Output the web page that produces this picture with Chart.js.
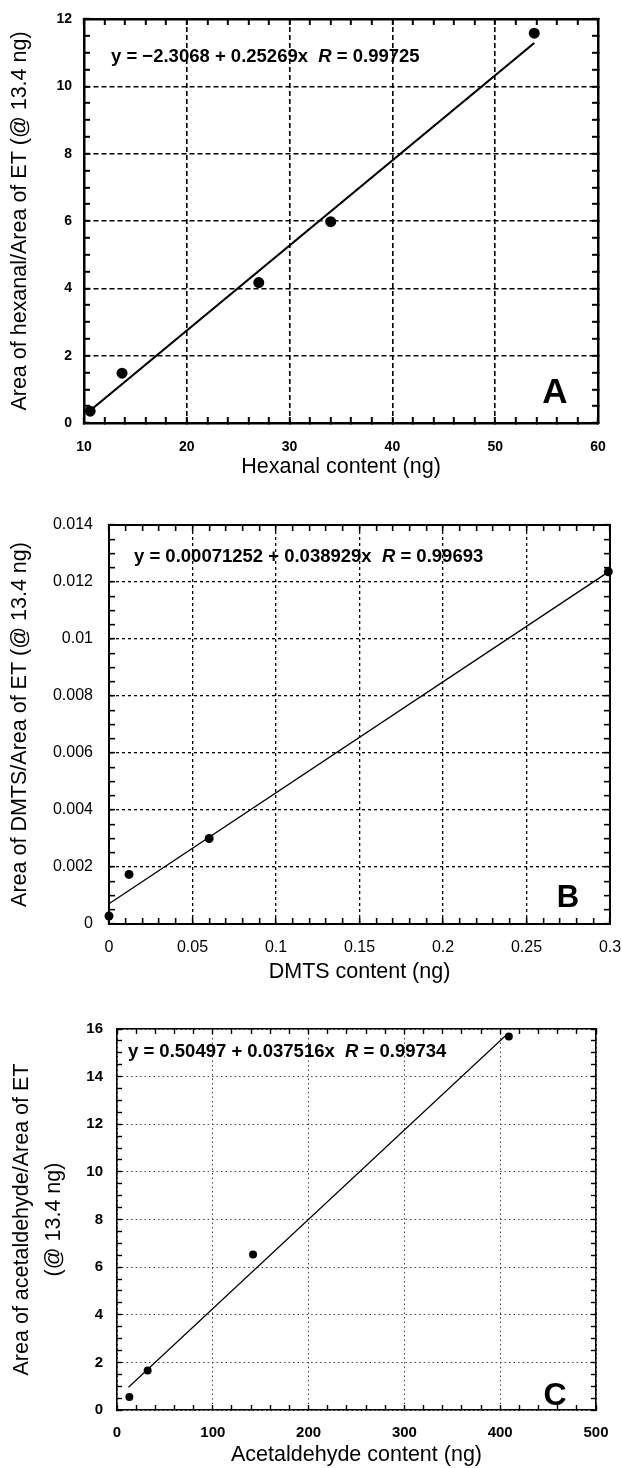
<!DOCTYPE html>
<html>
<head>
<meta charset="utf-8">
<script src="https://cdn.jsdelivr.net/npm/chart.js@4/dist/chart.umd.min.js"></script>
<style>
  body { margin: 0; background: #fff; }
  #wrap { position: relative; width: 622px; height: 1468px; overflow: hidden; }
  canvas { position: absolute; left: 0; }
</style>
</head>
<body>
<div id="wrap">
  <canvas id="chartA" width="622" height="485" style="top:0"></canvas>
  <canvas id="chartB" width="622" height="505" style="top:480px"></canvas>
  <canvas id="chartC" width="622" height="485" style="top:983px"></canvas>
</div>
<script>
// ======================
// DATA
// ======================

// A - hexanal
const hexanalX = [10.6, 13.7, 27.0, 34.0, 53.8];
const hexanalY = [0.35, 1.48, 4.17, 5.98, 11.58];
const hexanalFit = [-2.3068, 0.25269];      // intercept, slope
const hexanalFitRange = [10.6, 53.8];
const hexanalXTicks = [10, 20, 30, 40, 50, 60];
const hexanalYTicks = [0, 2, 4, 6, 8, 10, 12];

// B - DMTS
const dmtsX = [0, 0.012, 0.06, 0.299];
const dmtsY = [0.00028, 0.00174, 0.0030, 0.01236];
const dmtsFit = [0.00071252, 0.038929];
const dmtsFitRange = [0, 0.3];
const dmtsXTicks = [0, 0.05, 0.1, 0.15, 0.2, 0.25, 0.3];
const dmtsYTicks = [0, 0.002, 0.004, 0.006, 0.008, 0.01, 0.012, 0.014];

// C - acetaldehyde
const acetX = [12.9, 32, 142, 409];
const acetY = [0.55, 1.66, 6.53, 15.69];
const acetFit = [0.50497, 0.037516];
const acetFitRange = [12, 408];
const acetXTicks = [0, 100, 200, 300, 400, 500];
const acetYTicks = [0, 2, 4, 6, 8, 10, 12, 14, 16];

const FONT = "'Liberation Sans', Arial, Helvetica, sans-serif";
Chart.defaults.font.family = FONT;
Chart.defaults.color = "#000";

// ======================
// HELPERS
// ======================

function minorTicks(min, max, step) {
  const out = [];
  const n = Math.round((max - min) / step);
  for (let i = 0; i <= n; i++) out.push({ value: +(min + i * step).toFixed(8) });
  return out;
}

function isMajor(v, majors) {
  return majors.some(m => Math.abs(m - v) < 1e-9);
}

// the box sizes of the 4 axes fix where the plot area sits
function axis(pos, majors, minorStep, st, size, pad, title) {
  const min = majors[0];
  const max = majors[majors.length - 1];
  const main = pos === "bottom" || pos === "left";
  return {
    type: "linear",
    position: pos,
    min,
    max,
    afterBuildTicks: sc => { sc.ticks = minorTicks(min, max, minorStep); },
    afterFit: sc => {
      if (sc.isHorizontal()) sc.height = size; else sc.width = size;
      // labels overhang is handled by the box sizes
      sc.paddingTop = sc.paddingBottom = sc.paddingLeft = sc.paddingRight = 0;
    },
    border: { display: true, color: "#000", width: st.border, dash: st.dash },
    grid: {
      drawOnChartArea: main,
      color: c => (main && c.tick && isMajor(c.tick.value, majors)) ? st.gridColor : "rgba(0,0,0,0)",
      lineWidth: st.gridWidth,
      drawTicks: true,
      tickLength: -st.tick,
      tickColor: "#000",
      tickWidth: st.tickWidth,
      tickBorderDash: []
    },
    ticks: {
      display: main,
      autoSkip: false,
      maxRotation: 0,
      padding: pad,
      font: st.tickFont,
      color: "#000",
      callback: v => isMajor(v, majors) ? String(v) : ""
    },
    title: title || { display: false }
  };
}

// equation text and panel letter
const notes = {
  id: "notes",
  afterDraw(chart, args, o) {
    const { ctx, chartArea: a } = chart;
    ctx.save();
    ctx.fillStyle = "#000";
    ctx.textAlign = "left";
    ctx.textBaseline = "middle";
    let x = a.left + o.eqX;
    const y = a.top + o.eqY;
    o.eq.forEach(p => {
      ctx.font = (p.italic ? "italic " : "") + "bold " + o.eqSize + "px " + FONT;
      ctx.fillText(p.text, x, y);
      x += ctx.measureText(p.text).width;
    });
    ctx.font = "bold " + o.letterSize + "px " + FONT;
    ctx.textAlign = "center";
    ctx.textBaseline = "alphabetic";
    ctx.fillText(o.letter, a.right - o.letterDX, a.bottom - o.letterDY);
    ctx.restore();
  }
};

function makePanel(id, p) {
  const pts = p.xs.map((x, i) => ({ x, y: p.ys[i] }));
  const fitPts = p.fitRange.map(x => ({ x, y: p.fit[0] + p.fit[1] * x }));
  const st = p.style;
  new Chart(document.getElementById(id), {
    type: "scatter",
    data: {
      datasets: [
        {
          data: fitPts,
          showLine: true,
          borderColor: "#000",
          borderWidth: st.lineWidth,
          pointRadius: 0
        },
        {
          data: pts,
          backgroundColor: "#000",
          borderWidth: 0,
          pointRadius: st.radius,
          clip: false
        }
      ]
    },
    options: {
      responsive: false,
      animation: false,
      events: [],
      layout: { padding: 0 },
      scales: {
        x: axis("bottom", p.xTicks, p.xMinor, st, p.box[2], p.xPad, p.xTitle),
        y: axis("left", p.yTicks, p.yMinor, st, p.box[3], p.yPad, p.yTitle),
        x2: axis("top", p.xTicks, p.xMinor, st, p.box[0], 0),
        y2: axis("right", p.yTicks, p.yMinor, st, p.box[1], 0)
      },
      plugins: {
        legend: { display: false },
        tooltip: { enabled: false },
        notes: p.notes
      }
    },
    plugins: [notes]
  });
}

// ======================
// PANELS
// ======================

makePanel("chartA", {
  xs: hexanalX, ys: hexanalY, fit: hexanalFit, fitRange: hexanalFitRange,
  xTicks: hexanalXTicks, yTicks: hexanalYTicks, xMinor: 2, yMinor: 0.5,
  box: [19, 24, 62, 84],   // top, right, bottom, left
  xPad: 22, yPad: 18,
  xTitle: { display: true, text: "Hexanal content (ng)", font: { size: 21.5 }, color: "#000", padding: { top: 0, bottom: 5 } },
  yTitle: { display: true, text: "Area of hexanal/Area of ET (@ 13.4 ng)", font: { size: 21.5 }, color: "#000", padding: { top: 7, bottom: 0 } },
  style: {
    border: 2.5, gridWidth: 1.6, gridColor: "#000", dash: [5, 3], tick: 6, tickWidth: 2,
    tickFont: { size: 14, weight: "bold" }, radius: 5.5, lineWidth: 2.2
  },
  notes: {
    eq: [{ text: "y = \u22122.3068 + 0.25269x  " }, { text: "R", italic: true }, { text: " = 0.99725" }],
    eqX: 27, eqY: 38, eqSize: 18.5, letter: "A", letterSize: 35, letterDX: 43, letterDY: 20
  }
});

makePanel("chartB", {
  xs: dmtsX, ys: dmtsY, fit: dmtsFit, fitRange: dmtsFitRange,
  xTicks: dmtsXTicks, yTicks: dmtsYTicks, xMinor: 0.01, yMinor: 0.0005,
  box: [45, 12, 61, 109],
  xPad: 20, yPad: 22,
  xTitle: { display: true, text: "DMTS content (ng)", font: { size: 21.5 }, color: "#000", padding: { top: 0, bottom: 0 } },
  yTitle: { display: true, text: "Area of DMTS/Area of ET (@ 13.4 ng)", font: { size: 21.5 }, color: "#000", padding: { top: 7, bottom: 0 } },
  style: {
    border: 2, gridWidth: 1.3, gridColor: "#000", dash: [3, 3], tick: 6, tickWidth: 1.6,
    tickFont: { size: 16 }, radius: 4.5, lineWidth: 1.3
  },
  notes: {
    eq: [{ text: "y = 0.00071252 + 0.038929x  " }, { text: "R", italic: true }, { text: " = 0.99693" }],
    eqX: 25, eqY: 32, eqSize: 18.5, letter: "B", letterSize: 31, letterDX: 42, letterDY: 17
  }
});

makePanel("chartC", {
  xs: acetX, ys: acetY, fit: acetFit, fitRange: acetFitRange,
  xTicks: acetXTicks, yTicks: acetYTicks, xMinor: 20, yMinor: 0.5,
  box: [46, 26, 58, 117],
  xPad: 19, yPad: 19,
  xTitle: { display: true, text: "Acetaldehyde content (ng)", font: { size: 21.5 }, color: "#000", padding: { top: 0, bottom: 0 } },
  yTitle: { display: true, text: ["Area of acetaldehyde/Area of ET", "(@ 13.4 ng)"], font: { size: 21.5, lineHeight: 1.5 }, color: "#000", padding: { top: 6, bottom: 0 } },
  style: {
    border: 1.6, gridWidth: 1, gridColor: "#444", dash: [1.5, 3], tick: 5, tickWidth: 1.4,
    tickFont: { size: 15, weight: "bold" }, radius: 4, lineWidth: 1.2
  },
  notes: {
    eq: [{ text: "y = 0.50497 + 0.037516x  " }, { text: "R", italic: true }, { text: " = 0.99734" }],
    eqX: 11, eqY: 23, eqSize: 18.5, letter: "C", letterSize: 32, letterDX: 41, letterDY: 5
  }
});
</script>
</body>
</html>
